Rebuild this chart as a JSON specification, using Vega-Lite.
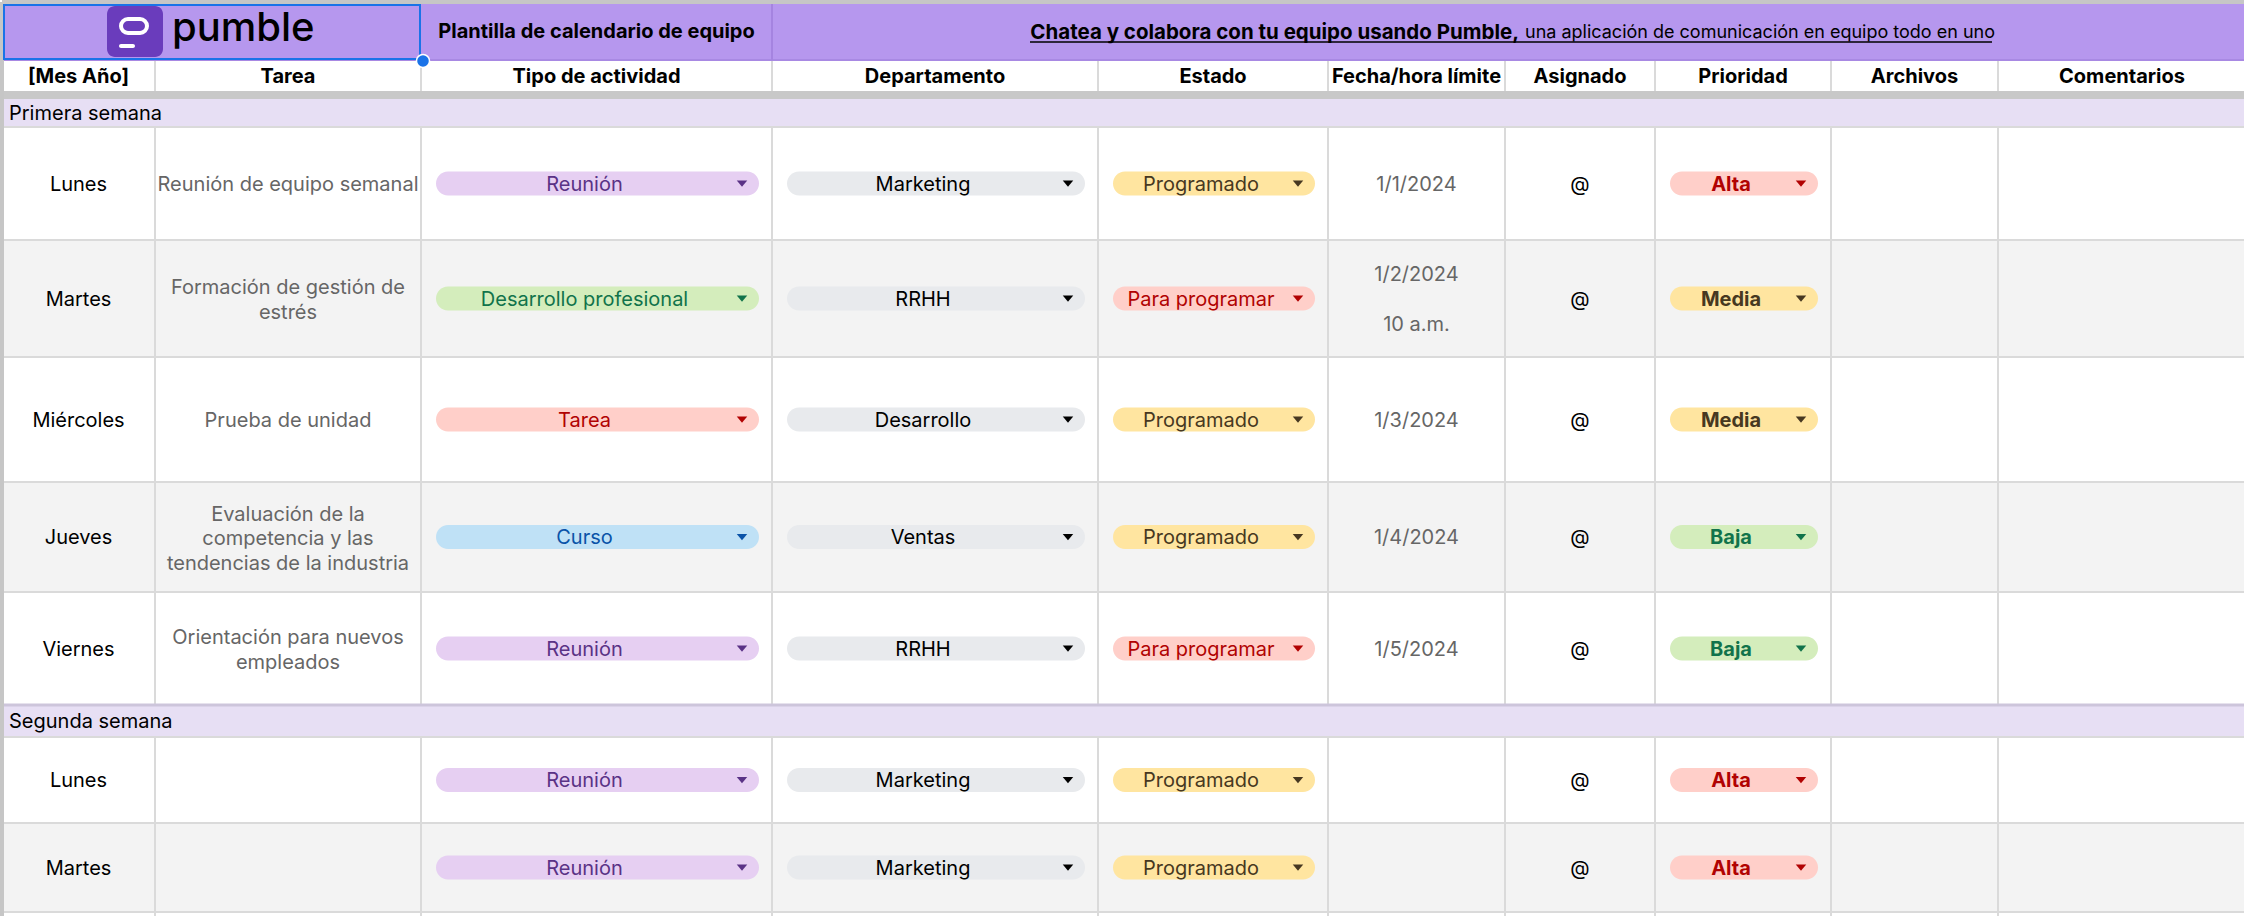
{
 "$schema": "https://vega.github.io/schema/vega-lite/v6.json",
 "width": 2244, "height": 916,
 "autosize": {"type": "fit", "contains": "padding"},
 "padding": 0,
 "background": "#ffffff",
 "config": {"view": {"stroke": null}, "text": {"font": "Inter", "fontSize": 20}},
 "datasets": {
  "tareas": [
   {"fila": 4, "dia": "Lunes", "tarea": ["Reunión de equipo semanal"], "tipo": "Reunión", "depto": "Marketing", "estado": "Programado", "fecha": ["1/1/2024"], "asignado": "@", "prioridad": "Alta"},
   {"fila": 5, "dia": "Martes", "tarea": ["Formación de gestión de", "estrés"], "tipo": "Desarrollo profesional", "depto": "RRHH", "estado": "Para programar", "fecha": ["1/2/2024", "10 a.m."], "asignado": "@", "prioridad": "Media"},
   {"fila": 6, "dia": "Miércoles", "tarea": ["Prueba de unidad"], "tipo": "Tarea", "depto": "Desarrollo", "estado": "Programado", "fecha": ["1/3/2024"], "asignado": "@", "prioridad": "Media"},
   {"fila": 7, "dia": "Jueves", "tarea": ["Evaluación de la", "competencia y las", "tendencias de la industria"], "tipo": "Curso", "depto": "Ventas", "estado": "Programado", "fecha": ["1/4/2024"], "asignado": "@", "prioridad": "Baja"},
   {"fila": 8, "dia": "Viernes", "tarea": ["Orientación para nuevos", "empleados"], "tipo": "Reunión", "depto": "RRHH", "estado": "Para programar", "fecha": ["1/5/2024"], "asignado": "@", "prioridad": "Baja"},
   {"fila": 10, "dia": "Lunes", "tarea": [""], "tipo": "Reunión", "depto": "Marketing", "estado": "Programado", "fecha": [""], "asignado": "@", "prioridad": "Alta"},
   {"fila": 11, "dia": "Martes", "tarea": [""], "tipo": "Reunión", "depto": "Marketing", "estado": "Programado", "fecha": [""], "asignado": "@", "prioridad": "Alta"}
  ],
  "columnas": [{"campo": "tipo", "c": 2}, {"campo": "depto", "c": 3}, {"campo": "estado", "c": 4}, {"campo": "prioridad", "c": 7}],
  "encabezados": [{"c": 0, "h": "[Mes Año]"}, {"c": 1, "h": "Tarea"}, {"c": 2, "h": "Tipo de actividad"}, {"c": 3, "h": "Departamento"}, {"c": 4, "h": "Estado"}, {"c": 5, "h": "Fecha/hora límite"}, {"c": 6, "h": "Asignado"}, {"c": 7, "h": "Prioridad"}, {"c": 8, "h": "Archivos"}, {"c": 9, "h": "Comentarios"}],
  "semanas": [{"r": 3, "t": "Primera semana"}, {"r": 9, "t": "Segunda semana"}],
  "gris": [{"r": 5}, {"r": 7}, {"r": 11}],
  "verticales": [{"c": 1}, {"c": 2}, {"c": 3}, {"c": 4}, {"c": 5}, {"c": 6}, {"c": 7}, {"c": 8}, {"c": 9}],
  "lineas": [{"r": 4}, {"r": 5}, {"r": 6}, {"r": 7}, {"r": 8}, {"r": 10}, {"r": 11}, {"r": 12}],
  "uno": [{}]
 },
 "layer": [
  {
   "data": {"name": "gris"},
   "transform": [{"calculate": "datum.r + 1", "as": "r1"}],
   "mark": {"type": "rect", "fill": "#f3f3f3"},
   "encoding": {
    "x": {"datum": 0, "type": "quantitative", "axis": null, "scale": {"domain": [0,1,2,3,4,5,6,7,8,9,10], "range": [0,153,419,770,1096,1326,1503,1653,1829,1996,2244], "nice": false, "zero": false}},
    "x2": {"datum": 10},
    "y": {"field": "r", "type": "quantitative", "axis": null, "scale": {"domain": [0,1,2,3,4,5,6,7,8,9,10,11,12,13], "range": [0,58,89,97,125,238,355,480,590,703,735,821,910,916], "nice": false, "zero": false}},
    "y2": {"field": "r1"}
   }
  },
  {
   "data": {"name": "verticales"},
   "mark": {"type": "rule", "stroke": "#dadada", "strokeWidth": 2},
   "encoding": {
    "x": {"field": "c", "type": "quantitative", "axis": null},
    "y": {"datum": 1, "type": "quantitative", "axis": null},
    "y2": {"datum": 13}
   }
  },
  {
   "data": {"name": "semanas"},
   "transform": [{"calculate": "datum.r + 1", "as": "r1"}],
   "mark": {"type": "rect", "fill": "#e7dff4"},
   "encoding": {
    "x": {"datum": 0, "type": "quantitative", "axis": null},
    "x2": {"datum": 10},
    "y": {"field": "r", "type": "quantitative", "axis": null},
    "y2": {"field": "r1"}
   }
  },
  {
   "data": {"name": "uno"},
   "mark": {"type": "rect", "fill": "#c8c8c8"},
   "encoding": {
    "x": {"datum": 0, "type": "quantitative", "axis": null},
    "x2": {"datum": 10},
    "y": {"datum": 2, "type": "quantitative", "axis": null},
    "y2": {"datum": 3}
   }
  },
  {
   "data": {"name": "uno"},
   "mark": {"type": "rect", "fill": "#b697ee"},
   "encoding": {
    "x": {"datum": 0, "type": "quantitative", "axis": null},
    "x2": {"datum": 10},
    "y": {"datum": 0, "type": "quantitative", "axis": null},
    "y2": {"datum": 1}
   }
  },
  {
   "data": {"name": "lineas"},
   "mark": {"type": "rule", "stroke": "#dadada", "strokeWidth": 2},
   "encoding": {
    "x": {"datum": 0, "type": "quantitative", "axis": null},
    "x2": {"datum": 10},
    "y": {"field": "r", "type": "quantitative", "axis": null}
   }
  },
  {
   "data": {"name": "uno"},
   "mark": {"type": "rule", "stroke": "#cdc5db", "strokeWidth": 3},
   "encoding": {
    "x": {"datum": 0, "type": "quantitative", "axis": null},
    "x2": {"datum": 10},
    "y": {"datum": 9, "type": "quantitative", "axis": null}
   }
  },
  {
   "data": {"name": "uno"},
   "mark": {"type": "rule", "stroke": "#a889e3", "strokeWidth": 2},
   "encoding": {
    "x": {"datum": 0, "type": "quantitative", "axis": null},
    "x2": {"datum": 10},
    "y": {"datum": 1, "type": "quantitative", "axis": null}
   }
  },
  {
   "data": {"name": "uno"},
   "mark": {"type": "rule", "stroke": "#a584e0", "strokeWidth": 2},
   "encoding": {
    "x": {"datum": 3, "type": "quantitative", "axis": null},
    "y": {"datum": 0, "type": "quantitative", "axis": null},
    "y2": {"datum": 1}
   }
  },
  {
   "data": {"name": "uno"},
   "mark": {"type": "rule", "stroke": "#c6c6c6", "strokeWidth": 4},
   "encoding": {
    "x": {"datum": 0, "type": "quantitative", "axis": null},
    "x2": {"datum": 10},
    "y": {"datum": 0, "type": "quantitative", "axis": null}
   }
  },
  {
   "data": {"name": "uno"},
   "mark": {"type": "rule", "stroke": "#c6c6c6", "strokeWidth": 4},
   "encoding": {
    "x": {"datum": 0, "type": "quantitative", "axis": null},
    "y": {"datum": 0, "type": "quantitative", "axis": null},
    "y2": {"datum": 13}
   }
  },
  {
   "data": {"name": "semanas"},
   "transform": [{"calculate": "datum.r + 0.5", "as": "ym"}],
   "mark": {"type": "text", "align": "left", "baseline": "middle", "dx": 7, "dy": 1, "fontSize": 20, "color": "#000000"},
   "encoding": {
    "x": {"datum": 0, "type": "quantitative", "axis": null},
    "y": {"field": "ym", "type": "quantitative", "axis": null},
    "text": {"field": "t", "type": "nominal"}
   }
  },
  {
   "data": {"name": "encabezados"},
   "transform": [{"calculate": "datum.c + 0.5", "as": "xm"}],
   "mark": {"type": "text", "align": "center", "baseline": "middle", "dy": 1, "fontSize": 20, "fontWeight": "bold", "color": "#000000"},
   "encoding": {
    "x": {"field": "xm", "type": "quantitative", "axis": null},
    "y": {"datum": 1.5, "type": "quantitative", "axis": null},
    "text": {"field": "h", "type": "nominal"}
   }
  },
  {
   "data": {"name": "uno"},
   "mark": {"type": "text", "align": "center", "baseline": "middle", "dy": 1, "fontSize": 20, "fontWeight": "bold", "color": "#000000", "text": "Plantilla de calendario de equipo"},
   "encoding": {
    "x": {"datum": 2.5, "type": "quantitative", "axis": null},
    "y": {"datum": 0.5, "type": "quantitative", "axis": null}
   }
  },
  {
   "data": {"name": "uno"},
   "mark": {"type": "text", "align": "right", "baseline": "middle", "dx": 14, "dy": 2, "fontSize": 20.5, "fontWeight": "bold", "color": "#000000", "text": "Chatea y colabora con tu equipo usando Pumble,"},
   "encoding": {
    "x": {"datum": 6, "type": "quantitative", "axis": null},
    "y": {"datum": 0.5, "type": "quantitative", "axis": null}
   }
  },
  {
   "data": {"name": "uno"},
   "mark": {"type": "text", "align": "left", "baseline": "middle", "dx": 20, "dy": 2, "fontSize": 18, "color": "#000000", "text": "una aplicación de comunicación en equipo todo en uno"},
   "encoding": {
    "x": {"datum": 6, "type": "quantitative", "axis": null},
    "y": {"datum": 0.5, "type": "quantitative", "axis": null}
   }
  },
  {
   "data": {"name": "uno"},
   "mark": {"type": "rule", "stroke": "#000000", "strokeWidth": 1.5, "xOffset": -475, "x2Offset": 487, "yOffset": 11},
   "encoding": {
    "x": {"datum": 6, "type": "quantitative", "axis": null},
    "x2": {"datum": 6},
    "y": {"datum": 0.5, "type": "quantitative", "axis": null}
   }
  },
  {
   "data": {"name": "uno"},
   "mark": {"type": "rect", "fill": "#6a3cbc", "cornerRadius": 8, "xOffset": 105, "x2Offset": 161, "yOffset": 4, "y2Offset": -3},
   "encoding": {
    "x": {"datum": 0, "type": "quantitative", "axis": null},
    "x2": {"datum": 0},
    "y": {"datum": 0, "type": "quantitative", "axis": null},
    "y2": {"datum": 1}
   }
  },
  {
   "data": {"name": "uno"},
   "mark": {"type": "rect", "fillOpacity": 0, "stroke": "#ffffff", "strokeWidth": 4, "cornerRadius": 7, "xOffset": 119, "x2Offset": 145, "yOffset": 17, "y2Offset": 31},
   "encoding": {
    "x": {"datum": 0, "type": "quantitative", "axis": null},
    "x2": {"datum": 0},
    "y": {"datum": 0, "type": "quantitative", "axis": null},
    "y2": {"datum": 0}
   }
  },
  {
   "data": {"name": "uno"},
   "mark": {"type": "rect", "fill": "#ffffff", "cornerRadius": 2, "xOffset": 117, "x2Offset": 133, "yOffset": 42, "y2Offset": 46},
   "encoding": {
    "x": {"datum": 0, "type": "quantitative", "axis": null},
    "x2": {"datum": 0},
    "y": {"datum": 0, "type": "quantitative", "axis": null},
    "y2": {"datum": 0}
   }
  },
  {
   "data": {"name": "uno"},
   "mark": {"type": "text", "align": "left", "baseline": "alphabetic", "dx": 170, "dy": 39, "fontSize": 40, "fontWeight": 500, "color": "#000000", "text": "pumble"},
   "encoding": {
    "x": {"datum": 0, "type": "quantitative", "axis": null},
    "y": {"datum": 0, "type": "quantitative", "axis": null}
   }
  },
  {
   "data": {"name": "uno"},
   "mark": {"type": "rect", "fillOpacity": 0, "stroke": "#1a73e8", "strokeWidth": 2, "xOffset": 2, "x2Offset": -1, "yOffset": 3, "y2Offset": -1},
   "encoding": {
    "x": {"datum": 0, "type": "quantitative", "axis": null},
    "x2": {"datum": 2},
    "y": {"datum": 0, "type": "quantitative", "axis": null},
    "y2": {"datum": 1}
   }
  },
  {
   "data": {"name": "uno"},
   "mark": {"type": "point", "shape": "circle", "filled": true, "fill": "#1a73e8", "opacity": 1, "stroke": "#ffffff", "strokeWidth": 1.5, "size": 170, "xOffset": 2, "yOffset": 1},
   "encoding": {
    "x": {"datum": 2, "type": "quantitative", "axis": null},
    "y": {"datum": 1, "type": "quantitative", "axis": null}
   }
  },
  {
   "data": {"name": "tareas"},
   "transform": [
    {"calculate": "datum.fila + 0.5", "as": "ym"},
    {"calculate": "length(datum.tarea)", "as": "nt"},
    {"calculate": "length(datum.fecha)", "as": "nf"}
   ],
   "layer": [
    {
     "mark": {"type": "text", "align": "center", "baseline": "middle", "dy": 1, "fontSize": 20, "color": "#000000"},
     "encoding": {
      "x": {"datum": 0.5, "type": "quantitative", "axis": null},
      "y": {"field": "ym", "type": "quantitative", "axis": null},
      "text": {"field": "dia", "type": "nominal"}
     }
    },
    {
     "transform": [{"filter": "datum.nt == 1"}],
     "mark": {"type": "text", "align": "center", "baseline": "middle", "dy": 1, "fontSize": 20, "lineHeight": 24.5, "color": "#666666"},
     "encoding": {
      "x": {"datum": 1.5, "type": "quantitative", "axis": null},
      "y": {"field": "ym", "type": "quantitative", "axis": null},
      "text": {"field": "tarea", "type": "nominal"}
     }
    },
    {
     "transform": [{"filter": "datum.nt == 2"}],
     "mark": {"type": "text", "align": "center", "baseline": "middle", "dy": -10.5, "fontSize": 20, "lineHeight": 24.5, "color": "#666666"},
     "encoding": {
      "x": {"datum": 1.5, "type": "quantitative", "axis": null},
      "y": {"field": "ym", "type": "quantitative", "axis": null},
      "text": {"field": "tarea", "type": "nominal"}
     }
    },
    {
     "transform": [{"filter": "datum.nt == 3"}],
     "mark": {"type": "text", "align": "center", "baseline": "middle", "dy": -22.5, "fontSize": 20, "lineHeight": 24.5, "color": "#666666"},
     "encoding": {
      "x": {"datum": 1.5, "type": "quantitative", "axis": null},
      "y": {"field": "ym", "type": "quantitative", "axis": null},
      "text": {"field": "tarea", "type": "nominal"}
     }
    },
    {
     "transform": [{"filter": "datum.nf == 1"}],
     "mark": {"type": "text", "align": "center", "baseline": "middle", "dy": 1, "fontSize": 20, "color": "#666666"},
     "encoding": {
      "x": {"datum": 5.5, "type": "quantitative", "axis": null},
      "y": {"field": "ym", "type": "quantitative", "axis": null},
      "text": {"field": "fecha", "type": "nominal"}
     }
    },
    {
     "transform": [{"filter": "datum.nf == 2"}],
     "mark": {"type": "text", "align": "center", "baseline": "middle", "dy": -23.5, "fontSize": 20, "lineHeight": 50, "color": "#666666"},
     "encoding": {
      "x": {"datum": 5.5, "type": "quantitative", "axis": null},
      "y": {"field": "ym", "type": "quantitative", "axis": null},
      "text": {"field": "fecha", "type": "nominal"}
     }
    },
    {
     "mark": {"type": "text", "align": "center", "baseline": "middle", "dy": 1, "fontSize": 20, "color": "#000000"},
     "encoding": {
      "x": {"datum": 6.5, "type": "quantitative", "axis": null},
      "y": {"field": "ym", "type": "quantitative", "axis": null},
      "text": {"field": "asignado", "type": "nominal"}
     }
    }
   ]
  },
  {
   "data": {"name": "tareas"},
   "transform": [
    {"fold": ["tipo", "depto", "estado", "prioridad"], "as": ["campo", "valor"]},
    {"lookup": "campo", "from": {"data": {"name": "columnas"}, "key": "campo", "fields": ["c"]}},
    {"calculate": "datum.fila + 0.5", "as": "ym"},
    {"calculate": "datum.c + 1", "as": "c1"},
    {"calculate": "datum.c + 0.5", "as": "cm"}
   ],
   "layer": [
    {
     "mark": {"type": "rect", "cornerRadius": 12, "xOffset": 15, "x2Offset": -13, "yOffset": -12, "y2Offset": 12},
     "encoding": {
      "x": {"field": "c", "type": "quantitative", "axis": null},
      "x2": {"field": "c1"},
      "y": {"field": "ym", "type": "quantitative", "axis": null},
      "y2": {"field": "ym"},
      "fill": {"field": "valor", "type": "nominal", "legend": null, "scale": {
       "domain": ["Reunión", "Desarrollo profesional", "Tarea", "Curso", "Marketing", "RRHH", "Desarrollo", "Ventas", "Programado", "Para programar", "Alta", "Media", "Baja"],
       "range": ["#e6cff2", "#d4edbc", "#ffcfc9", "#bfe1f6", "#e8eaed", "#e8eaed", "#e8eaed", "#e8eaed", "#ffe5a0", "#ffcfc9", "#ffcfc9", "#ffe5a0", "#d4edbc"]}}
     }
    },
    {
     "transform": [{"filter": "datum.campo != 'prioridad'"}],
     "mark": {"type": "text", "align": "center", "baseline": "middle", "dx": -12, "dy": 1, "fontSize": 20},
     "encoding": {
      "x": {"field": "cm", "type": "quantitative", "axis": null},
      "y": {"field": "ym", "type": "quantitative", "axis": null},
      "text": {"field": "valor", "type": "nominal"},
      "color": {"field": "valor", "type": "nominal", "legend": null, "scale": {
       "domain": ["Reunión", "Desarrollo profesional", "Tarea", "Curso", "Marketing", "RRHH", "Desarrollo", "Ventas", "Programado", "Para programar", "Alta", "Media", "Baja"],
       "range": ["#5a3286", "#11734b", "#b10202", "#0a53a8", "#000000", "#000000", "#000000", "#000000", "#473821", "#b10202", "#b10202", "#473821", "#11734b"]}}
     }
    },
    {
     "transform": [{"filter": "datum.campo == 'prioridad'"}],
     "mark": {"type": "text", "align": "center", "baseline": "middle", "dx": -12, "dy": 1, "fontSize": 20, "fontWeight": "bold"},
     "encoding": {
      "x": {"field": "cm", "type": "quantitative", "axis": null},
      "y": {"field": "ym", "type": "quantitative", "axis": null},
      "text": {"field": "valor", "type": "nominal"},
      "color": {"field": "valor", "type": "nominal", "legend": null}
     }
    },
    {
     "mark": {"type": "point", "filled": true, "opacity": 1, "size": 110, "shape": "M-1,-0.55L1,-0.55L0,0.6Z", "xOffset": -30},
     "encoding": {
      "x": {"field": "c1", "type": "quantitative", "axis": null},
      "y": {"field": "ym", "type": "quantitative", "axis": null},
      "color": {"field": "valor", "type": "nominal", "legend": null}
     }
    }
   ]
  }
 ]
}
